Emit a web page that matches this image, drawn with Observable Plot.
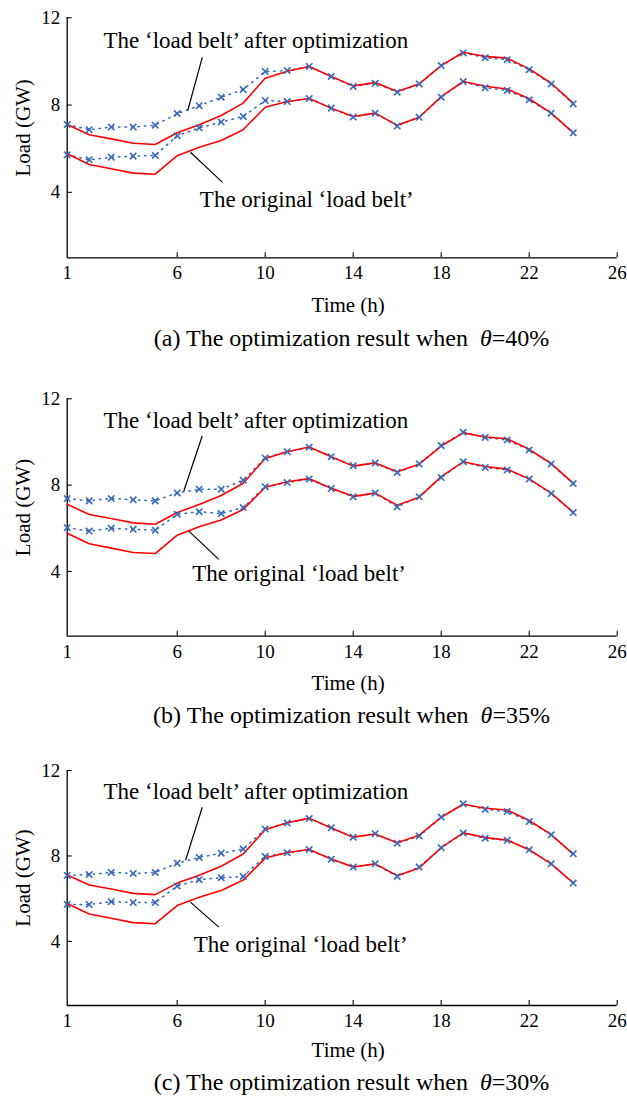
<!DOCTYPE html>
<html><head><meta charset="utf-8">
<script src="https://cdn.jsdelivr.net/npm/d3@7"></script>
<script src="https://cdn.jsdelivr.net/npm/@observablehq/plot@0.6"></script>
<style>
body{margin:0;background:#fff;}
#root{position:relative;width:627px;height:1096px;font-family:"Liberation Serif","Times New Roman",serif;color:#000;}
.panel{position:absolute;left:0;}
.caption{position:absolute;font-size:24px;white-space:nowrap;transform:translate(-50%,-50%);color:#000;line-height:1;}
</style></head><body><div id="root"></div>
<script>
// ---- data ----
const hours = [1,2,3,4,5,6,7,8,9,10,11,12,13,14,15,16,17,18,19,20,21,22,23,24];
const xTicks = [1,6,10,14,18,22,26];
const yTicks = [4,8,12];

const origUpper = [7.11,6.64,6.45,6.25,6.19,6.73,7.10,7.52,8.09,9.23,9.55,9.77,9.31,8.88,9.03,8.62,8.97,9.81,10.42,10.23,10.15,9.66,9.00,8.09];
const origLower = [5.77,5.28,5.08,4.88,4.83,5.68,6.07,6.38,6.87,7.90,8.16,8.30,7.86,7.48,7.63,7.07,7.44,8.39,9.08,8.86,8.74,8.29,7.63,6.74];

const optUpperA = [7.11,6.87,6.99,6.99,7.08,7.61,7.97,8.36,8.71,9.54,9.58,9.77,9.31,8.85,9.00,8.59,8.97,9.81,10.39,10.17,10.08,9.62,8.97,8.05];
const optLowerA = [5.72,5.49,5.61,5.66,5.69,6.59,6.96,7.22,7.48,8.21,8.16,8.30,7.86,7.45,7.63,7.04,7.44,8.36,9.08,8.79,8.67,8.24,7.63,6.73];
const optUpperB = [7.38,7.27,7.38,7.32,7.27,7.64,7.81,7.81,8.23,9.26,9.55,9.75,9.32,8.90,9.02,8.59,8.98,9.83,10.45,10.21,10.09,9.63,8.98,8.07];
const optLowerB = [6.03,5.87,6.00,5.95,5.91,6.65,6.77,6.68,6.96,7.93,8.12,8.28,7.84,7.46,7.63,6.99,7.46,8.35,9.08,8.82,8.70,8.28,7.61,6.73];
const optUpperC = [7.09,7.13,7.23,7.18,7.23,7.66,7.93,8.13,8.32,9.26,9.54,9.75,9.32,8.88,9.04,8.60,8.93,9.82,10.44,10.18,10.08,9.61,8.99,8.10];
const optLowerC = [5.73,5.73,5.86,5.82,5.82,6.59,6.89,6.98,7.04,7.98,8.15,8.30,7.85,7.48,7.63,7.04,7.48,8.38,9.07,8.83,8.73,8.29,7.63,6.73];

const panelIds = ["a","b","c"];
const thetas = ["40%","35%","30%"];
const annoAfter = "The ‘load belt’ after optimization";
const annoOrig = "The original ‘load belt’";
// annotation anchors in data units (hour, GW)
const afterTextAt = [[2.65,10.95],[2.65,10.99],[2.65,10.99]];
const origTextAt = [[7.03,3.65],[6.68,3.90],[6.75,3.86]];
const afterLeader = [[7.14,10.19,6.48,7.75],[7.14,10.29,6.30,7.73],[7.14,10.28,6.38,7.79]];
const origLeader = [[6.60,5.84,8.05,4.47],[6.53,5.87,7.89,4.56],[6.60,5.84,7.89,4.67]];

// ---- layout / style ----
const FONT = '"Liberation Serif","Times New Roman",serif';
const RED = "#ff0000", BLUE = "#3568b8";
const W = 627, mL = 66.7, mR = 10.3, mB = 64;
const layout = [
  {top: 0,   marginTop: 17.3, frameH: 240,   timeDy: 47, capY: 338},
  {top: 370, marginTop: 28.3, frameH: 237.4, timeDy: 47, capY: 715},
  {top: 740, marginTop: 30,   frameH: 235,   timeDy: 45, capY: 1082}
];
const optSeries = [[optUpperA,optLowerA],[optUpperB,optLowerB],[optUpperC,optLowerC]];

const root = document.getElementById("root");
const rows = vals => hours.map((h,i) => ({h, v: vals[i]}));

layout.forEach((L, k) => {
  const [up, lo] = optSeries[k];
  const H = L.marginTop + L.frameH + mB;
  const frameW = W - mL - mR;
  const plot = Plot.plot({
    width: W, height: H,
    marginLeft: mL, marginRight: mR, marginTop: L.marginTop, marginBottom: mB,
    style: {fontFamily: FONT, fontSize: "19px", color: "#000", background: "transparent", overflow: "visible"},
    x: {domain: [1, 26]},
    y: {domain: [1, 12]},
    marks: [
      Plot.ruleY([1], {stroke: "#000", strokeWidth: 1.3}),
      Plot.ruleX([1], {stroke: "#000", strokeWidth: 1.3}),
      Plot.ruleX(xTicks.filter(t => t > 1), {stroke: "#000", strokeWidth: 1.1, insetTop: L.frameH - 5}),
      Plot.ruleY(yTicks, {stroke: "#000", strokeWidth: 1.1, insetRight: frameW - 5}),
      Plot.axisX({ticks: xTicks, tickSize: 0, tickPadding: 8, tickFormat: d => String(d), label: null, fontSize: 19, fontFamily: FONT}),
      Plot.axisY({ticks: yTicks, tickSize: 0, tickPadding: 7, tickFormat: d => String(d), label: null, fontSize: 19, fontFamily: FONT}),
      Plot.text(["Time (h)"], {text: d => d, frameAnchor: "bottom", dy: L.timeDy, dx: 6, fontSize: 21, textAnchor: "middle", lineAnchor: "middle"}),
      Plot.text(["Load (GW)"], {text: d => d, frameAnchor: "left", dx: -44, dy: -10, rotate: -90, fontSize: 21, textAnchor: "middle", lineAnchor: "middle"}),
      Plot.line(rows(up), {x: "h", y: "v", stroke: BLUE, strokeWidth: 1.5, strokeDasharray: "1.5,5"}),
      Plot.line(rows(lo), {x: "h", y: "v", stroke: BLUE, strokeWidth: 1.5, strokeDasharray: "1.5,5"}),
      Plot.line(rows(origUpper), {x: "h", y: "v", stroke: RED, strokeWidth: 1.6}),
      Plot.line(rows(origLower), {x: "h", y: "v", stroke: RED, strokeWidth: 1.6}),
      Plot.dot(rows(up), {x: "h", y: "v", symbol: "times", r: 3, stroke: BLUE, strokeWidth: 1.6}),
      Plot.dot(rows(lo), {x: "h", y: "v", symbol: "times", r: 3, stroke: BLUE, strokeWidth: 1.6}),
      Plot.link([afterLeader[k], origLeader[k]], {x1: d => d[0], y1: d => d[1], x2: d => d[2], y2: d => d[3], stroke: "#000", strokeWidth: 1.2}),
      Plot.text([afterTextAt[k]], {x: d => d[0], y: d => d[1], text: () => annoAfter, textAnchor: "start", lineAnchor: "middle", fontSize: 23}),
      Plot.text([origTextAt[k]], {x: d => d[0], y: d => d[1], text: () => annoOrig, textAnchor: "start", lineAnchor: "middle", fontSize: 23})
    ]
  });
  const wrap = document.createElement("div");
  wrap.className = "panel";
  wrap.style.top = L.top + "px";
  wrap.appendChild(plot);
  root.appendChild(wrap);

  const cap = document.createElement("div");
  cap.className = "caption";
  cap.style.left = "351.5px";
  cap.style.top = L.capY + "px";
  cap.innerHTML = `(${panelIds[k]}) The optimization result when&#8194;<i>θ</i>=${thetas[k]}`;
  root.appendChild(cap);
});
</script>
</body></html>
